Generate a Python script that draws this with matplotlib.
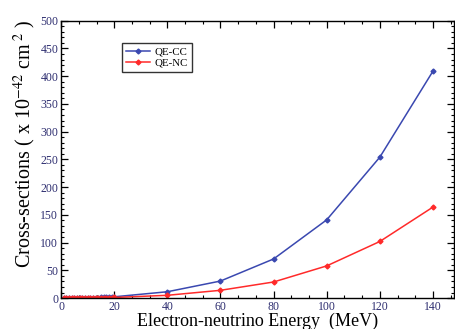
import matplotlib
matplotlib.use("Agg")
import matplotlib.pyplot as plt
from matplotlib.ticker import MultipleLocator

energy = [1, 2, 3, 4, 5, 6, 7, 8, 9, 10, 11, 12, 13, 14, 15, 16, 17, 18, 19, 20,
          40, 60, 80, 100, 120, 140]
qe_cc = [0.0, 0.01, 0.03, 0.06, 0.1, 0.15, 0.21, 0.28, 0.36, 0.45, 0.55, 0.66, 0.8,
         0.95, 1.1, 1.3, 1.5, 1.75, 2.0, 2.3,
         11.4, 30.7, 70.5, 141, 254, 409]
qe_nc = [0.0, 0.005, 0.015, 0.03, 0.05, 0.07, 0.1, 0.13, 0.17, 0.21, 0.26, 0.31, 0.37,
         0.44, 0.52, 0.6, 0.7, 0.8, 0.92, 1.05,
         5.0, 14.0, 29.0, 58.0, 102, 164]

plt.rcParams['font.family'] = ['Liberation Serif', 'DejaVu Serif']
plt.rcParams['mathtext.fontset'] = 'stix'

fig = plt.figure(figsize=(4.56, 3.29), dpi=100)
ax = fig.add_axes([0.134, 0.094, 0.862, 0.843])

cc_color = '#3a48b0'
nc_color = '#ff2a2a'
ax.plot(energy, qe_cc, color=cc_color, lw=1.1, marker='D', ms=2.5, label='QE-CC')
ax.plot(energy, qe_nc, color=nc_color, lw=1.1, marker='D', ms=2.5, label='QE-NC')

ax.set_xlim(0, 148)
ax.set_ylim(0, 500)
ax.xaxis.set_major_locator(MultipleLocator(20))
ax.xaxis.set_minor_locator(MultipleLocator(20 / 3))
ax.yaxis.set_major_locator(MultipleLocator(50))
ax.yaxis.set_minor_locator(MultipleLocator(10))
ax.tick_params(which='both', direction='in', top=True, right=True,
               labelcolor='#2e2e70', labelsize=8.5, pad=2)
ax.tick_params(which='major', length=5, width=0.9)
ax.tick_params(which='minor', length=2.5, width=0.8)
for s in ax.spines.values():
    s.set_linewidth(1.0)

ax.set_xlabel('Electron-neutrino Energy  (MeV)', fontsize=13, labelpad=0)
ax.set_ylabel(r'Cross-sections ( x 10$^{-42}$ cm$^{\ 2}$ )', fontsize=14.5)
ax.yaxis.set_label_coords(-0.058, 0.555)

leg = ax.legend(loc='upper left', bbox_to_anchor=(0.14, 0.94), fontsize=7.8,
                frameon=True, fancybox=False, edgecolor='black', borderpad=0.4,
                handlelength=2.2, labelspacing=0.15, handletextpad=0.4)
leg.get_frame().set_linewidth(1.0)

fig.savefig('out.png', dpi=100)
